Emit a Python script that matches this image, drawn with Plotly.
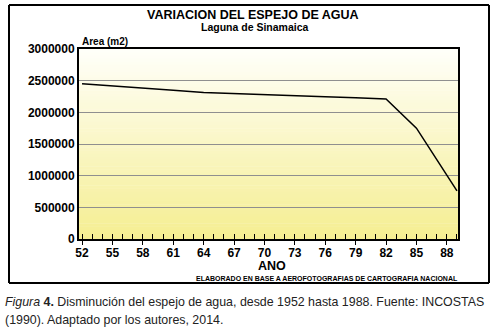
import plotly.graph_objects as go

# ---- data ----
years = [52, 55, 58, 61, 64, 67, 70, 73, 76, 79, 82, 85, 89]
area_m2 = [2450000, 2420000, 2380000, 2350000, 2315000, 2295000, 2280000,
           2265000, 2245000, 2230000, 2210000, 1750000, 760000]
x_tick_vals = [52, 55, 58, 61, 64, 67, 70, 73, 76, 79, 82, 85, 88]
y_tick_vals = [0, 500000, 1000000, 1500000, 2000000, 2500000, 3000000]
y_tick_text = ["0", "500000", "1000000", "1500000", "2000000", "2500000", "3000000"]

FONT = "Liberation Sans, Arial, sans-serif"

fig = go.Figure()
fig.add_trace(go.Scatter(x=years, y=area_m2, mode="lines",
                         line=dict(color="black", width=1.5),
                         hoverinfo="x+y", showlegend=False))
# empty helper trace so the minor-tick overlay axis is drawn
fig.add_trace(go.Scatter(x=[], y=[], xaxis="x2", showlegend=False))

W, H = 503, 330
L, R, T, B = 79, 45, 49, 91
pw, ph = W - L - R, H - T - B

def px(x):
    return (x - L) / pw

def py(y):
    return (H - B - y) / ph

# vertical gradient background (white -> pale yellow)
shapes = []
n = 60
top = (255, 255, 250)
bot = (245, 238, 145)
for i in range(n):
    t = (i + 0.5) / n
    c = tuple(round(top[k] + (bot[k] - top[k]) * t) for k in range(3))
    shapes.append(dict(type="rect", xref="x domain", yref="y domain",
                       x0=0, x1=1, y0=max(0, 1 - (i + 1) / n - 0.002), y1=1 - i / n,
                       fillcolor="rgb(%d,%d,%d)" % c, line=dict(width=0),
                       layer="below"))

# outer frame (four lines)
fx0, fx1, fy0, fy1 = px(9), px(489), py(283), py(5)
for (a, b, c, d) in [(fx0, fy0, fx1, fy0), (fx0, fy1, fx1, fy1),
                     (fx0, fy0, fx0, fy1), (fx1, fy0, fx1, fy1)]:
    shapes.append(dict(type="line", xref="paper", yref="paper",
                       x0=a, y0=b, x1=c, y1=d,
                       line=dict(color="black", width=2), layer="above"))

annotations = [
    dict(text="<b>VARIACION DEL ESPEJO DE AGUA</b>", x=px(253), y=py(15),
         xref="paper", yref="paper", showarrow=False, xanchor="center", yanchor="middle",
         font=dict(family=FONT, size=12.5, color="black")),
    dict(text="<b>Laguna de Sinamaica</b>", x=px(255), y=py(27.5),
         xref="paper", yref="paper", showarrow=False, xanchor="center", yanchor="middle",
         font=dict(family=FONT, size=10.5, color="black")),
    dict(text="<b>Area (m2)</b>", x=px(80), y=py(41),
         xref="paper", yref="paper", showarrow=False, xanchor="left", yanchor="middle",
         font=dict(family=FONT, size=10, color="black")),
    dict(text="<b>ANO</b>", x=px(272), y=py(266),
         xref="paper", yref="paper", showarrow=False, xanchor="center", yanchor="middle",
         font=dict(family=FONT, size=12.5, color="black")),
    dict(text="<b>ELABORADO EN BASE A AEROFOTOGRAFIAS DE CARTOGRAFIA NACIONAL</b>",
         x=px(327), y=py(278), xref="paper", yref="paper", showarrow=False,
         xanchor="center", yanchor="middle",
         font=dict(family=FONT, size=7, color="black")),
    dict(text="<i>Figura</i> <b>4.</b> Disminución del espejo de agua, desde 1952 hasta 1988. Fuente: INCOSTAS",
         x=px(3), y=py(302), xref="paper", yref="paper", showarrow=False,
         xanchor="left", yanchor="middle",
         font=dict(family=FONT, size=12.4, color="#222")),
    dict(text="(1990). Adaptado por los autores, 2014.",
         x=px(3), y=py(320), xref="paper", yref="paper", showarrow=False,
         xanchor="left", yanchor="middle",
         font=dict(family=FONT, size=12.4, color="#222")),
]

xr = [51.7, 89.1]
fig.update_layout(
    width=W, height=H,
    margin=dict(l=L, r=R, t=T, b=B, pad=0),
    paper_bgcolor="white",
    plot_bgcolor="rgba(0,0,0,0)",
    shapes=shapes,
    annotations=annotations,
    xaxis=dict(range=xr, tickmode="array", tickvals=x_tick_vals,
               ticks="outside", ticklen=4, tickwidth=1, tickcolor="black",
               ticklabelstandoff=-2,
               showgrid=False, zeroline=False,
               showline=True, linecolor="black", linewidth=2, mirror=True,
               tickfont=dict(family=FONT, size=12, color="black", weight="bold"),
               fixedrange=True),
    xaxis2=dict(range=xr, overlaying="x", anchor="y", side="bottom",
                tickmode="linear", tick0=52, dtick=1,
                ticks="inside", ticklen=5, tickwidth=1, tickcolor="black",
                showticklabels=False, showgrid=False, zeroline=False, showline=False,
                fixedrange=True),
    yaxis=dict(range=[0, 3000000], tickmode="array", tickvals=y_tick_vals,
               ticktext=y_tick_text, ticks="", ticklabelstandoff=0,
               showgrid=True, gridcolor="#8f8f8f", gridwidth=1, zeroline=False,
               showline=True, linecolor="black", linewidth=2, mirror=True,
               tickfont=dict(family=FONT, size=12, color="black", weight="bold"),
               fixedrange=True),
)

fig.write_html("out.html", config={"displayModeBar": False},
               post_script="document.body.style.margin='0';document.body.style.overflow='hidden';")
